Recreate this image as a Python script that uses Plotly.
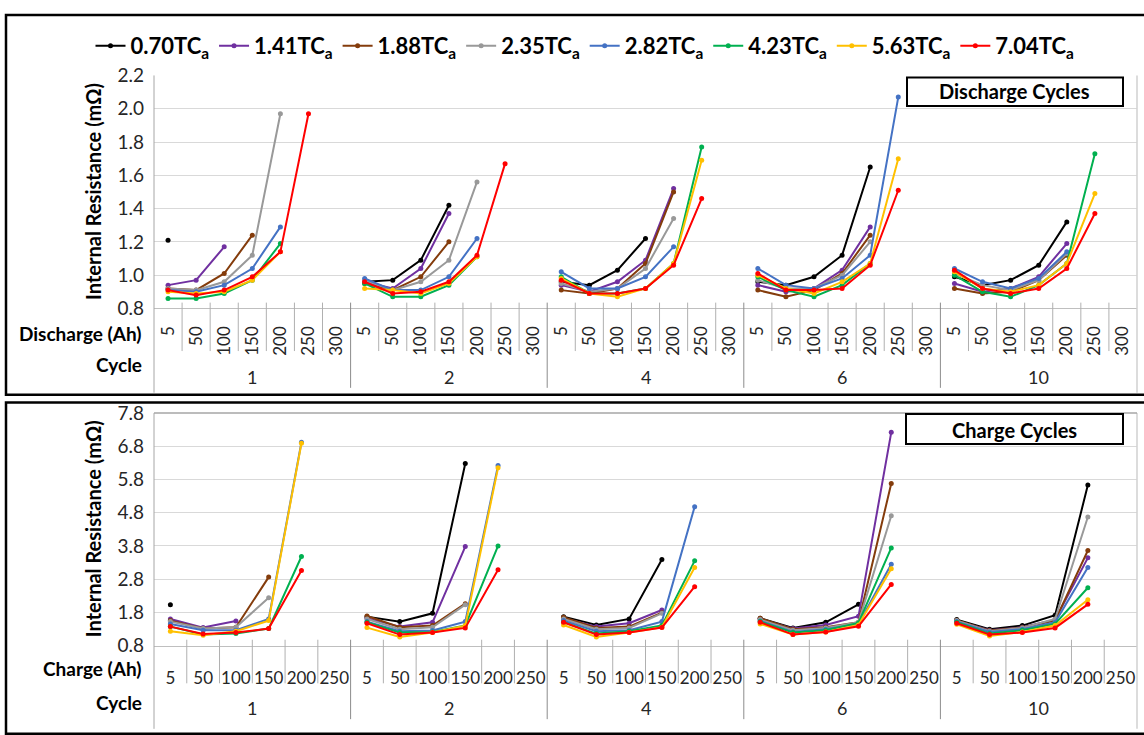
import plotly.graph_objects as go

# ---------------- data ----------------
cycles = ["1", "2", "4", "6", "10"]
discharge_levels = ["5", "50", "100", "150", "200", "250", "300"]
charge_levels = ["5", "50", "100", "150", "200", "250"]

series_names = ["0.70TC<sub>a</sub>", "1.41TC<sub>a</sub>", "1.88TC<sub>a</sub>", "2.35TC<sub>a</sub>",
                "2.82TC<sub>a</sub>", "4.23TC<sub>a</sub>", "5.63TC<sub>a</sub>", "7.04TC<sub>a</sub>"]
series_colors = ["#000000", "#7030A0", "#843C0C", "#999999",
                 "#4472C4", "#00B050", "#FFC000", "#FF0000"]

# Discharge internal resistance (mOhm), one list per cycle (1, 2, 4, 6, 10)
dis_070 = [[1.21], [0.96, 0.97, 1.09, 1.42], [0.96, 0.94, 1.03, 1.22],
           [0.96, 0.94, 0.99, 1.12, 1.65], [0.99, 0.94, 0.97, 1.06, 1.32]]
dis_141 = [[0.94, 0.97, 1.17], [0.96, 0.92, 1.04, 1.37], [0.94, 0.90, 0.96, 1.09, 1.52],
           [0.94, 0.90, 0.92, 1.03, 1.29], [0.95, 0.90, 0.92, 0.99, 1.19]]
dis_188 = [[0.92, 0.91, 1.01, 1.24], [0.95, 0.91, 0.99, 1.20], [0.91, 0.89, 0.92, 1.07, 1.50],
           [0.91, 0.87, 0.91, 1.01, 1.24], [0.92, 0.89, 0.90, 0.97, 1.12]]
dis_235 = [[0.92, 0.91, 0.96, 1.12, 1.97], [0.97, 0.91, 0.96, 1.09, 1.56], [0.95, 0.90, 0.92, 1.04, 1.34],
           [0.97, 0.92, 0.92, 1.00, 1.20], [1.01, 0.94, 0.91, 0.97, 1.13]]
dis_282 = [[0.91, 0.90, 0.94, 1.04, 1.29], [0.98, 0.91, 0.91, 0.99, 1.22], [1.02, 0.92, 0.92, 0.99, 1.17],
           [1.04, 0.94, 0.92, 0.98, 1.12, 2.07], [1.04, 0.96, 0.92, 0.98, 1.14]]
dis_423 = [[0.86, 0.86, 0.89, 0.97, 1.19], [0.95, 0.87, 0.87, 0.94, 1.11], [0.99, 0.89, 0.89, 0.92, 1.07, 1.77],
           [0.99, 0.91, 0.87, 0.94, 1.07], [1.00, 0.90, 0.87, 0.94, 1.07, 1.73]]
dis_563 = [[0.90, 0.89, 0.90, 0.97, 1.14], [0.92, 0.91, 0.89, 0.95, 1.11], [0.98, 0.89, 0.87, 0.92, 1.07, 1.69],
           [1.00, 0.92, 0.89, 0.96, 1.07, 1.70], [1.02, 0.92, 0.90, 0.94, 1.07, 1.49]]
dis_704 = [[0.91, 0.88, 0.91, 0.99, 1.14, 1.97], [0.96, 0.89, 0.90, 0.96, 1.12, 1.67],
           [0.97, 0.89, 0.89, 0.92, 1.06, 1.46], [1.01, 0.91, 0.91, 0.92, 1.06, 1.51],
           [1.03, 0.92, 0.89, 0.92, 1.04, 1.37]]

# Charge internal resistance (mOhm)
chg_070 = [[2.03], [1.67, 1.52, 1.77, 6.28], [1.67, 1.42, 1.60, 3.39],
           [1.62, 1.33, 1.50, 2.04], [1.58, 1.29, 1.40, 1.71, 5.63]]
chg_141 = [[1.60, 1.34, 1.54], [1.62, 1.37, 1.50, 3.78], [1.62, 1.37, 1.47, 1.87],
           [1.60, 1.31, 1.42, 1.68, 7.22], [1.55, 1.26, 1.35, 1.58, 3.44]]
chg_188 = [[1.55, 1.31, 1.35, 2.86], [1.69, 1.35, 1.40, 2.06], [1.65, 1.33, 1.37, 1.79],
           [1.62, 1.29, 1.35, 1.50, 5.68], [1.56, 1.25, 1.34, 1.55, 3.66]]
chg_235 = [[1.52, 1.31, 1.35, 2.24], [1.60, 1.29, 1.35, 2.03], [1.60, 1.29, 1.33, 1.77],
           [1.58, 1.26, 1.33, 1.50, 4.71], [1.55, 1.23, 1.33, 1.60, 4.67]]
chg_282 = [[1.45, 1.26, 1.26, 1.60, 6.92], [1.52, 1.23, 1.25, 1.52, 6.22], [1.55, 1.23, 1.26, 1.52, 4.98],
           [1.54, 1.21, 1.29, 1.45, 3.25], [1.52, 1.21, 1.29, 1.50, 3.15]]
chg_423 = [[1.37, 1.13, 1.16, 1.31, 3.48], [1.50, 1.19, 1.21, 1.40, 3.80], [1.50, 1.16, 1.23, 1.40, 3.35],
           [1.52, 1.19, 1.26, 1.48, 3.74], [1.50, 1.16, 1.26, 1.45, 2.54]]
chg_563 = [[1.23, 1.11, 1.23, 1.55, 6.89], [1.34, 1.06, 1.19, 1.40, 6.15], [1.42, 1.06, 1.19, 1.35, 3.15],
           [1.45, 1.13, 1.21, 1.42, 3.11], [1.44, 1.09, 1.21, 1.40, 2.18]]
chg_704 = [[1.37, 1.15, 1.19, 1.31, 3.06], [1.47, 1.13, 1.19, 1.33, 3.08], [1.50, 1.13, 1.19, 1.34, 2.57],
           [1.50, 1.13, 1.21, 1.38, 2.64], [1.47, 1.13, 1.19, 1.33, 2.04]]

discharge_data = [dis_070, dis_141, dis_188, dis_235, dis_282, dis_423, dis_563, dis_704]
charge_data = [chg_070, chg_141, chg_188, chg_235, chg_282, chg_423, chg_563, chg_704]

# ---------------- helpers ----------------
W, H = 1144, 735
FONT = "Lato"


def PX(x):
    return x / W


def PY(y):
    return 1 - y / H


def flat(per_cycle, n):
    out = []
    for vals in per_cycle:
        out += list(vals) + [None] * (n - len(vals))
    return out


nd, nc = len(discharge_levels), len(charge_levels)
xd = list(range(nd * len(cycles)))
xc = list(range(nc * len(cycles)))

fig = go.Figure()
for name, color, dv, cv in zip(series_names, series_colors, discharge_data, charge_data):
    fig.add_trace(go.Scatter(x=xd, y=flat(dv, nd), mode="lines+markers", name=name,
                             legendgroup=name, line=dict(color=color, width=2),
                             marker=dict(color=color, size=5), xaxis="x", yaxis="y"))
    fig.add_trace(go.Scatter(x=xc, y=flat(cv, nc), mode="lines+markers", name=name,
                             legendgroup=name, showlegend=False, line=dict(color=color, width=2),
                             marker=dict(color=color, size=5), xaxis="x2", yaxis="y2"))

L, R = 154, 1137
T1, B1 = 65.5, 306
T2, B2 = 414, 654

tickfont = dict(family=FONT, size=17, color="#262626")
fig.update_layout(
    width=W, height=H, margin=dict(l=0, r=0, t=0, b=0),
    paper_bgcolor="white", plot_bgcolor="white",
    font=dict(family=FONT, color="#000000"),
    showlegend=True,
    legend=dict(orientation="h", x=PX(585), xanchor="center", y=PY(35), yanchor="middle",
                font=dict(family=FONT, size=22, color="#000000", weight="bold"),
                itemwidth=30, tracegroupgap=0, bgcolor="rgba(0,0,0,0)"),
    xaxis=dict(domain=[PX(L), PX(R)], range=[-0.5, nd * len(cycles) - 0.5], anchor="y",
               tickmode="array", tickvals=xd, ticktext=discharge_levels * len(cycles),
               tickangle=-90, showgrid=False, zeroline=False, showline=True,
               linecolor="#BFBFBF", linewidth=1, ticks="", ticklabelstandoff=10, tickfont=tickfont),
    yaxis=dict(domain=[PY(B1), PY(T1)], range=[0.8, 2.2], anchor="x", tick0=0.8, dtick=0.2,
               tickformat=".1f", showgrid=True, gridcolor="#D9D9D9", zeroline=False, showline=False,
               ticks="", ticklabelstandoff=9, tickfont=dict(family=FONT, size=19, color="#262626")),
    xaxis2=dict(domain=[PX(L), PX(R)], range=[-0.5, nc * len(cycles) - 0.5], anchor="y2",
                tickmode="array", tickvals=xc, ticktext=charge_levels * len(cycles),
                tickangle=0, showgrid=False, zeroline=False, showline=True,
                linecolor="#BFBFBF", linewidth=1, ticks="", ticklabelstandoff=17, tickfont=tickfont),
    yaxis2=dict(domain=[PY(B2), PY(T2)], range=[0.8, 7.8], anchor="x2", tick0=0.8, dtick=1.0,
                tickformat=".1f", showgrid=True, gridcolor="#D9D9D9", zeroline=False, showline=False,
                ticks="", ticklabelstandoff=9, tickfont=dict(family=FONT, size=19, color="#262626")),
)

shapes = []
# outer black boxes
shapes.append(dict(type="rect", xref="paper", yref="paper", x0=PX(6), x1=PX(1150), y0=PY(395), y1=PY(3),
                   line=dict(color="black", width=2.5)))
shapes.append(dict(type="rect", xref="paper", yref="paper", x0=PX(6), x1=PX(1150), y0=PY(745), y1=PY(403),
                   line=dict(color="black", width=2.5)))
# inner chart frames
for (t, b) in [(T1, 393), (T2, 740)]:
    shapes.append(dict(type="line", xref="paper", yref="paper", x0=PX(L), x1=PX(L), y0=PY(b), y1=PY(t),
                       line=dict(color="#A6A6A6", width=1)))
    shapes.append(dict(type="line", xref="paper", yref="paper", x0=PX(R), x1=PX(R), y0=PY(b), y1=PY(t),
                       line=dict(color="#D0D0D0", width=1.5)))
shapes.append(dict(type="line", xref="paper", yref="paper", x0=PX(L), x1=PX(R), y0=PY(T2), y1=PY(T2),
                   line=dict(color="#A6A6A6", width=1.5)))

# category separators
for i in range(nd * len(cycles) - 1):
    grp = (i + 1) % nd == 0
    shapes.append(dict(type="line", xref="x", yref="paper", x0=i + 0.5, x1=i + 0.5,
                       y0=PY(388 if grp else 350), y1=PY(300),
                       line=dict(color="#8C8C8C" if grp else "#B0B0B0", width=1)))
for i in range(nc * len(cycles) - 1):
    grp = (i + 1) % nc == 0
    shapes.append(dict(type="line", xref="x2", yref="paper", x0=i + 0.5, x1=i + 0.5,
                       y0=PY(730 if grp else 693), y1=PY(648),
                       line=dict(color="#8C8C8C" if grp else "#B0B0B0", width=1)))

# title boxes
shapes.append(dict(type="rect", xref="paper", yref="paper", x0=PX(907), x1=PX(1123), y0=PY(97), y1=PY(67.5),
                   line=dict(color="black", width=2), fillcolor="white", layer="above"))
shapes.append(dict(type="rect", xref="paper", yref="paper", x0=PX(906), x1=PX(1123), y0=PY(446), y1=PY(415),
                   line=dict(color="black", width=2), fillcolor="white", layer="above"))
fig.update_layout(shapes=shapes)

ann = []
bold = dict(family=FONT, size=19, color="#000000", weight="bold")


def add(text, x, y, xref="paper", xanchor="center", font=bold, angle=0):
    ann.append(dict(text=text, x=x, y=y, xref=xref, yref="paper", xanchor=xanchor, yanchor="middle",
                    showarrow=False, textangle=angle, font=font))


box_font = dict(family=FONT, size=20, color="#000000", weight="bold")
add("Discharge Cycles", PX(1015), PY(82), font=box_font)
add("Charge Cycles", PX(1015), PY(431), font=box_font)
for yc in [(T1 + B1) / 2, (T2 + B2) / 2]:
    add("Internal Resistance (mΩ)", PX(93), PY(yc), angle=-90,
        font=dict(family=FONT, size=20, color="#000000", weight="bold"))
for txt, yy in [("Discharge (Ah)", 332), ("Cycle", 364), ("Charge (Ah)", 678), ("Cycle", 713)]:
    add(txt, PX(144), PY(yy), xanchor="right")
cyc_font = dict(family=FONT, size=18, color="#262626")
for k, c in enumerate(cycles):
    add(c, k * nd + (nd - 1) / 2, PY(377), xref="x", font=cyc_font)
    add(c, k * nc + (nc - 1) / 2, PY(718), xref="x2", font=cyc_font)
fig.update_layout(annotations=ann)

fig.write_html("out.html")
